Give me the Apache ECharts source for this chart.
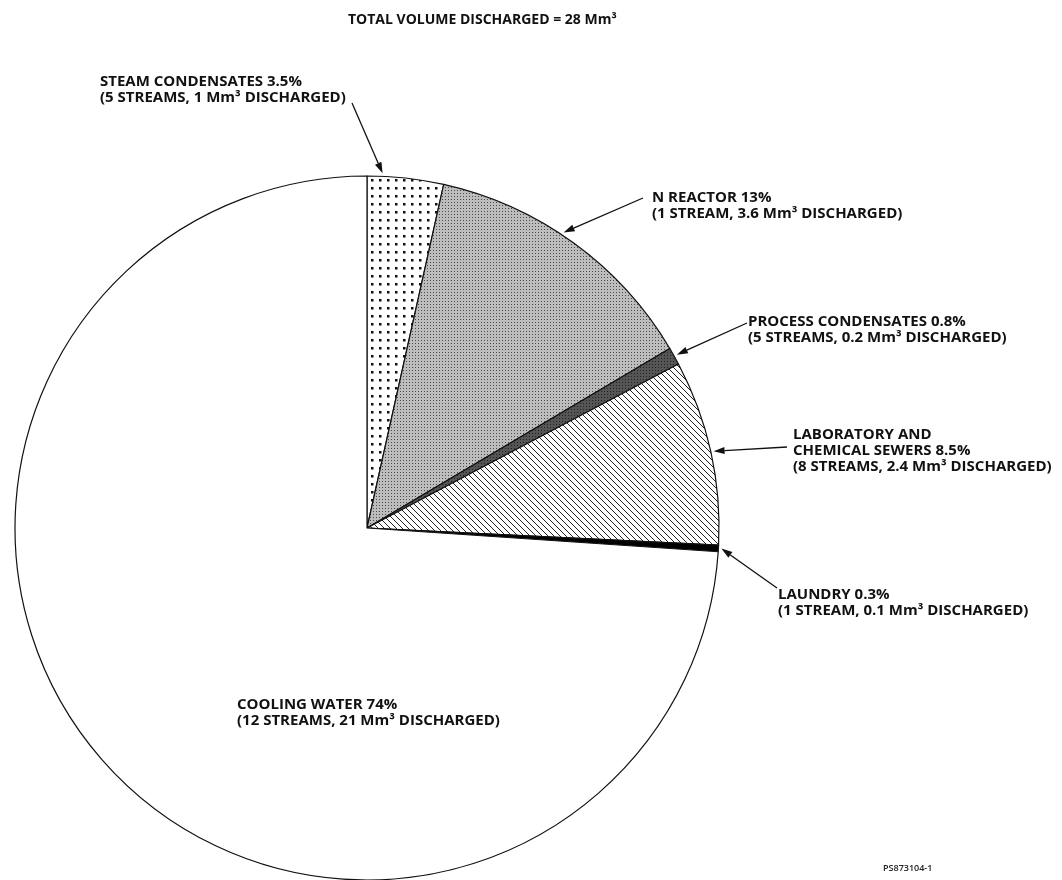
<!DOCTYPE html>
<html>
<head>
<meta charset="utf-8">
<script src="https://cdn.jsdelivr.net/npm/echarts@6/dist/echarts.min.js"></script>
<style>
  html, body { margin: 0; padding: 0; background: #fff; }
  #chart { width: 1062px; height: 880px; }
</style>
</head>
<body>
<div id="chart"></div>
<script>
// data
const categories = ['STEAM CONDENSATES', 'N REACTOR', 'PROCESS CONDENSATES', 'LABORATORY AND\nCHEMICAL SEWERS', 'LAUNDRY', 'COOLING WATER']
const percents = [3.5, 13, 0.8, 8.5, 0.3, 74]
const streams = [5, 1, 5, 8, 1, 12]
const volumes = ['1', '3.6', '0.2', '2.4', '0.1', '21']
const totalVolume = 28
const figureCode = 'PS873104-1'

// layout
const CX = 367
const CY = 528
const R = 352
const labelPos = [[100, 74], [652, 190], [748, 314], [793, 427], [778, 587], [237, 697]]
const arrowFrom = [[352, 103], [643, 198], [747, 323], [787, 447], [777, 588], null]
const arrowFrac = [0.2, 0.45, 0.5, 0.5, 0.5, 0]
const labelFont = { fontFamily: 'Open Sans', fontWeight: 700, fontSize: 15, lineHeight: 16, color: '#111' }

// 填充图案
const makePattern = (size, draw) => {
  const c = document.createElement('canvas')
  c.width = size
  c.height = size
  const ctx = c.getContext('2d')
  draw(ctx, size)
  return { image: c, repeat: 'repeat' }
}
const dots = makePattern(8, (ctx, s) => {
  ctx.fillStyle = '#fff'; ctx.fillRect(0, 0, s, s)
  ctx.fillStyle = '#111'; ctx.fillRect(3, 3, 2.5, 2.5)
})
const stipple = makePattern(3, (ctx, s) => {
  ctx.fillStyle = '#bdbdbd'; ctx.fillRect(0, 0, s, s)
  ctx.fillStyle = '#4a4a4a'; ctx.fillRect(1, 1, 1, 1)
})
const darkStipple = makePattern(3, (ctx, s) => {
  ctx.fillStyle = '#555'; ctx.fillRect(0, 0, s, s)
  ctx.fillStyle = '#222'; ctx.fillRect(1, 1, 1, 1)
})
const hatch = makePattern(6, (ctx, s) => {
  ctx.fillStyle = '#fff'; ctx.fillRect(0, 0, s, s)
  ctx.strokeStyle = '#222'; ctx.lineWidth = 1
  ctx.beginPath()
  ctx.moveTo(-1, -1); ctx.lineTo(s + 1, s + 1)
  ctx.moveTo(-1, s - 1); ctx.lineTo(1, s + 1)
  ctx.moveTo(s - 1, -1); ctx.lineTo(s + 1, 1)
  ctx.stroke()
})
const fills = [dots, stipple, darkStipple, hatch, '#000', '#fff']

// arrows drawn from the slice angles
const total = percents.reduce((a, b) => a + b, 0)
const arrows = []
let acc = 0
percents.forEach((p, i) => {
  const start = acc / total * 360
  const span = p / total * 360
  acc += p
  if (!arrowFrom[i]) return
  const ang = (start + span * arrowFrac[i]) * Math.PI / 180
  const tx = CX + (R + 3) * Math.sin(ang)
  const ty = CY - (R + 3) * Math.cos(ang)
  const [fx, fy] = arrowFrom[i]
  const dx = tx - fx
  const dy = ty - fy
  const len = Math.sqrt(dx * dx + dy * dy)
  const ux = dx / len
  const uy = dy / len
  const hl = 11
  const hw = 3.5
  const bx = tx - ux * hl
  const by = ty - uy * hl
  arrows.push({
    type: 'line',
    shape: { x1: fx, y1: fy, x2: bx, y2: by },
    style: { stroke: '#111', lineWidth: 1.3 }
  })
  arrows.push({
    type: 'polygon',
    shape: { points: [[tx, ty], [bx - uy * hw, by + ux * hw], [bx + uy * hw, by - ux * hw]] },
    style: { fill: '#111' }
  })
})

const seriesData = categories.map((name, i) => ({
  name,
  value: percents[i],
  itemStyle: { color: fills[i] }
}))

const chartInstance = echarts.init(document.getElementById('chart'))
chartInstance.setOption({
  backgroundColor: '#fff',
  animation: false,
  title: {
    text: 'TOTAL VOLUME DISCHARGED = ' + totalVolume + ' Mm³',
    left: 343,
    top: 8,
    textStyle: { fontFamily: 'Open Sans', fontWeight: 700, fontSize: 14, color: '#111' }
  },
  legend: { show: false },
  tooltip: { show: false },
  series: [{
    type: 'pie',
    center: [CX, CY],
    radius: R,
    startAngle: 90,
    clockwise: true,
    avoidLabelOverlap: false,
    itemStyle: { borderColor: '#111', borderWidth: 1.2 },
    label: {
      show: true,
      ...labelFont,
      formatter: (p) => {
        const i = p.dataIndex
        return p.name + ' ' + percents[i] + '%\n(' + streams[i] + (streams[i] === 1 ? ' STREAM, ' : ' STREAMS, ') + volumes[i] + ' Mm³ DISCHARGED)'
      }
    },
    labelLine: { show: false },
    labelLayout: (params) => ({
      x: labelPos[params.dataIndex][0],
      y: labelPos[params.dataIndex][1],
      align: 'left',
      verticalAlign: 'top'
    }),
    emphasis: { disabled: true },
    data: seriesData
  }],
  graphic: [
    ...arrows,
    {
      type: 'text',
      x: 883,
      y: 864,
      style: { text: figureCode, fontFamily: 'Open Sans', fontWeight: 600, fontSize: 9, fill: '#222' }
    }
  ]
})
</script>
</body>
</html>
